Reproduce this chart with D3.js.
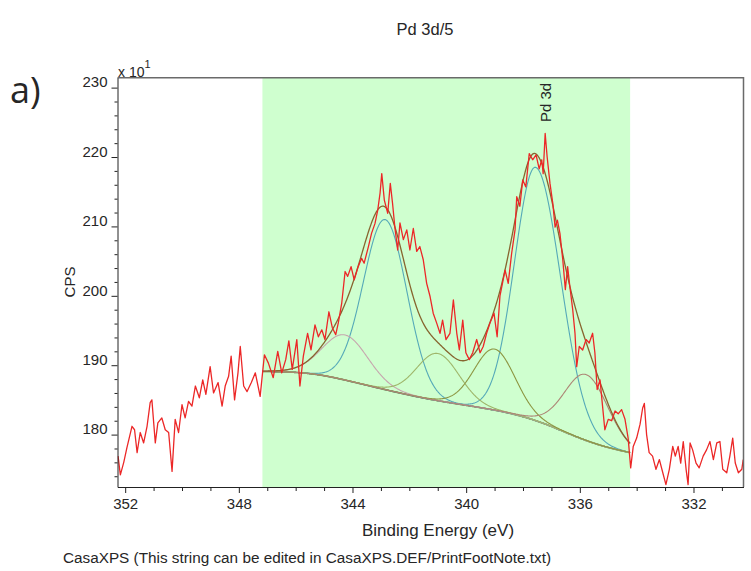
<!DOCTYPE html>
<html>
<head>
<meta charset="utf-8">
<script src="https://cdn.jsdelivr.net/npm/d3@7"></script>
<style>
  body { margin: 0; background: #fff; }
  svg { display: block; }
  text { font-family: "Liberation Sans", Arial, sans-serif; fill: #262626; }
</style>
</head>
<body>
<svg id="chart" width="751" height="571"></svg>
<script>
// ---- Measured spectrum (binding energy in eV, counts in units of 10 CPS) ----
const spectrumBE = [352.25, 352.17, 352.05, 351.94, 351.76, 351.67, 351.58, 351.47, 351.35, 351.23,
  351.12, 351.06, 350.94, 350.85, 350.71, 350.59, 350.47, 350.35, 350.24, 350.12,
  350.00, 349.89, 349.77, 349.65, 349.53, 349.39, 349.27, 349.16, 349.01, 348.89,
  348.73, 348.59, 348.48, 348.36, 348.27, 348.15, 348.03, 347.95, 347.83, 347.71,
  347.56, 347.42, 347.25,
  347.10, 346.96, 346.79, 346.63, 346.49, 346.35, 346.24, 346.12, 345.96, 345.85,
  345.73, 345.58, 345.46, 345.32, 345.20, 345.08, 344.97, 344.83, 344.71, 344.59,
  344.50, 344.38, 344.26, 344.17, 344.05, 343.94, 343.80, 343.68, 343.59, 343.44,
  343.33, 343.21, 343.11, 343.03, 342.97, 342.88, 342.76, 342.67, 342.59, 342.51,
  342.41,
  342.33, 342.21, 342.09, 341.98, 341.86, 341.74, 341.63, 341.51, 341.39, 341.27,
  341.16, 341.04, 340.92, 340.83, 340.71, 340.57, 340.45, 340.33, 340.24, 340.12,
  340.01, 339.89, 339.77, 339.63, 339.51, 339.40, 339.28, 339.16, 339.02, 338.91,
  338.81, 338.63, 338.52, 338.40, 338.28, 338.22, 338.11, 338.01, 337.90, 337.78,
  337.66, 337.54, 337.43, 337.34, 337.29, 337.22, 337.15, 337.05, 336.95, 336.87,
  336.79, 336.70, 336.60, 336.51, 336.43, 336.35, 336.25, 336.17, 336.11, 336.02,
  335.90, 335.78, 335.67, 335.55, 335.47, 335.39, 335.29, 335.20, 335.12, 335.00,
  334.88, 334.76, 334.65, 334.53, 334.41, 334.30, 334.21, 334.12, 334.00, 333.88,
  333.79, 333.73, 333.65, 333.56, 333.44, 333.32, 333.20, 333.08, 332.97, 332.85,
  332.73, 332.64, 332.54, 332.45, 332.36, 332.26, 332.19, 332.12, 332.03, 331.91,
  331.80, 331.66, 331.54, 331.42, 331.30, 331.18, 331.07, 330.97, 330.83, 330.72,
  330.62, 330.53, 330.42, 330.30, 330.25];
const spectrumCPS = [176.9, 174.2, 176.0, 178.1, 181.2, 180.7, 177.4, 180.3, 178.8, 181.2,
  184.6, 185.0, 178.8, 181.7, 182.4, 180.7, 180.3, 174.7, 182.2, 180.3,
  184.3, 182.4, 184.8, 184.1, 187.0, 185.3, 187.9, 185.8, 189.8, 186.0,
  187.5, 184.1, 187.0, 188.4, 191.3, 185.0, 188.9, 192.7, 187.0, 186.2,
  187.5, 188.9, 185.5,
  191.5, 190.3, 188.2, 192.0, 188.9, 190.8, 193.5, 189.4, 193.7, 187.0,
  191.3, 194.6, 192.2, 195.8, 194.1, 195.1, 193.7, 197.7, 195.4, 194.4,
  196.1, 198.9, 203.5, 202.8, 204.2, 202.3, 204.2, 205.4, 204.7, 207.1,
  209.0, 210.4, 212.4, 214.8, 217.6, 213.8, 211.9, 216.2, 213.3, 209.9,
  206.6,
  210.5, 208.1, 209.5, 206.6, 209.7, 206.4, 207.1, 205.2, 201.8, 199.9,
  197.5, 196.1, 194.6, 196.5, 193.7, 194.6, 199.4, 194.6, 192.2, 196.5,
  191.8, 190.8, 191.8, 193.7, 191.8, 192.7, 194.6, 196.1, 197.5, 194.1,
  200.0, 203.7, 201.8, 206.1, 209.5, 214.3, 212.9, 216.7, 215.7, 220.5,
  219.6, 220.3, 218.3, 219.6, 217.6, 223.4, 220.0, 216.2, 213.3, 209.9,
  210.9, 209.0, 205.2, 200.9, 204.2, 201.3, 198.0, 194.6, 189.8, 192.7,
  192.2, 193.7, 193.2, 194.6, 191.8, 186.5, 187.9, 184.1, 180.7, 182.2,
  182.0, 183.4, 183.0, 183.6, 182.2, 179.5, 175.2, 178.3, 179.5, 181.5,
  183.8, 184.5, 180.0, 177.4, 176.9, 175.0, 176.4, 174.5, 172.8, 175.0,
  178.3, 176.9, 178.3, 175.9, 179.0, 175.0, 172.8, 178.8, 177.8, 175.9,
  175.2, 176.9, 177.8, 179.0, 176.4, 178.8, 179.0, 175.0, 174.5, 176.9,
  179.5, 175.9, 174.5, 175.0, 176.4];

// ---- Fitting region and background (evenly spaced across the region) ----
const regionBE = [347.17, 334.23];
const backgroundCPS = [189.1, 189.05, 188.7, 187.8, 186.8, 185.85, 185.0, 184.35,
  183.7, 182.9, 181.6, 179.8, 178.3, 177.4];

// ---- Fitted components ----
const componentNames   = ["Pd 3d5/2 a", "Pd 3d3/2 a", "Pd 3d3/2 b", "Pd 3d3/2 c", "Pd 3d5/2 b", "Pd 3d5/2 c"];
const componentCenter  = [337.55, 342.85, 344.26, 341.00, 339.00, 335.77];
const componentHeight  = [36.5, 24.5, 6.5, 6.8, 8.8, 9.5];
const componentFwhmHi  = [1.75, 1.80, 1.90, 1.75, 1.70, 1.80];   // higher-BE side
const componentFwhmLo  = [2.05, 1.80, 1.90, 1.80, 1.70, 1.80];   // lower-BE side
const componentLorentz = [0.0, 0.0, 0.05, 0.05, 0.05, 0.05];

// ---- Axes ----
const xMajorTicks = [352, 348, 344, 340, 336, 332];
const yMajorTicks = [180, 190, 200, 210, 220, 230];
const peakLabel = { text: "Pd 3d", be: 337.2 };

const style = {
  componentColors: ["#55a9b8", "#55a9b8", "#c6a6ae", "#9fb66a", "#8d9642", "#ad8676"],
  background: "#5e5a2a",
  envelope: "#87652f",
  data: "#ec2727",
  region: "#cfffcf"
};

const svg = d3.select("#chart");
const plot = { left: 117.5, right: 743.5, top: 77.7, bottom: 487 };

const x = d3.scaleLinear().domain([352.27, 330.24]).range([plot.left, plot.right]);
const y = d3.scaleLinear().domain([172.45, 231.43]).range([plot.bottom, plot.top]);

svg.append("defs").append("clipPath").attr("id", "plotClip")
  .append("rect")
  .attr("x", plot.left).attr("y", plot.top)
  .attr("width", plot.right - plot.left).attr("height", plot.bottom - plot.top);

// fitting region
svg.append("rect")
  .attr("x", x(regionBE[0])).attr("y", plot.top)
  .attr("width", x(regionBE[1]) - x(regionBE[0]))
  .attr("height", plot.bottom - plot.top)
  .attr("fill", style.region);

// background as a smooth B-spline through its evenly spaced samples
const bgSpline = d3.interpolateBasis(backgroundCPS);
const bgAt = be => bgSpline((regionBE[0] - be) / (regionBE[0] - regionBE[1]));

function componentAt(i, be) {
  const d = be - componentCenter[i];
  const w = d >= 0 ? componentFwhmHi[i] : componentFwhmLo[i];
  const r2 = (d / w) * (d / w);
  const m = componentLorentz[i];
  return componentHeight[i] * ((1 - m) * Math.exp(-4 * Math.LN2 * r2) + m / (1 + 4 * r2));
}

const grid = d3.range(regionBE[0], regionBE[1] - 1e-9, -0.02);
grid.push(regionBE[1]);

const g = svg.append("g").attr("clip-path", "url(#plotClip)");
const line = d3.line().x(d => x(d[0])).y(d => y(d[1]));

// background
g.append("path")
  .datum(grid.map(be => [be, bgAt(be)]))
  .attr("fill", "none").attr("stroke", style.background).attr("stroke-width", 1.6)
  .attr("d", line);

// components on top of background
componentNames.forEach((name, i) => {
  g.append("path")
    .datum(grid.map(be => [be, bgAt(be) + componentAt(i, be)]))
    .attr("fill", "none").attr("stroke", style.componentColors[i]).attr("stroke-width", 1.1)
    .attr("d", line);
});

// envelope
g.append("path")
  .datum(grid.map(be => [be, bgAt(be) + d3.sum(componentNames, (n, i) => componentAt(i, be))]))
  .attr("fill", "none").attr("stroke", style.envelope).attr("stroke-width", 1.3)
  .attr("d", line);

// measured data
g.append("path")
  .datum(spectrumBE.map((be, i) => [be, spectrumCPS[i]]))
  .attr("fill", "none").attr("stroke", style.data).attr("stroke-width", 1.3)
  .attr("stroke-linejoin", "round")
  .attr("d", line);

// frame
svg.append("path")
  .attr("d", `M${plot.left},${plot.top}H${plot.right}V${plot.bottom}`)
  .attr("fill", "none").attr("stroke", "#6a6a6a").attr("stroke-width", 1.5);

// y axis
const yMinor = d3.range(174, 231, 2).filter(v => !yMajorTicks.includes(v));
const yAxisG = svg.append("g").attr("transform", `translate(${plot.left},0)`);
yAxisG.call(d3.axisLeft(y).tickValues(yMajorTicks).tickSize(6).tickPadding(4).tickSizeOuter(0));
yAxisG.append("g").call(d3.axisLeft(y).tickValues(yMinor).tickSize(3).tickFormat("").tickSizeOuter(0))
  .select(".domain").remove();
yAxisG.selectAll("text").attr("font-size", 15).attr("dy", "-0.05em")
  .style("font-family", "'Liberation Sans', Arial, sans-serif").attr("fill", "#262626");
yAxisG.selectAll("line, path").attr("stroke", "#222");

// x axis
const xMinor = d3.range(352, 330, -1).filter(v => !xMajorTicks.includes(v));
const xAxisG = svg.append("g").attr("transform", `translate(0,${plot.bottom})`);
xAxisG.call(d3.axisBottom(x).tickValues(xMajorTicks).tickSize(6).tickPadding(5).tickSizeOuter(0));
xAxisG.append("g").call(d3.axisBottom(x).tickValues(xMinor).tickSize(4).tickFormat("").tickSizeOuter(0))
  .select(".domain").remove();
xAxisG.selectAll("text").attr("font-size", 15)
  .style("font-family", "'Liberation Sans', Arial, sans-serif").attr("fill", "#262626");
xAxisG.selectAll("line, path").attr("stroke", "#222");

// scale factor note
const sf = svg.append("text").attr("x", 118).attr("y", 77).attr("font-size", 14);
sf.append("tspan").text("x 10");
sf.append("tspan").attr("dy", -9).attr("font-size", 11).text("1");

// peak label
svg.append("text")
  .attr("transform", `translate(${x(peakLabel.be) + 5},122) rotate(-90)`)
  .attr("font-size", 15).text(peakLabel.text);

// titles
svg.append("text").attr("x", 425).attr("y", 35).attr("text-anchor", "middle")
  .attr("font-size", 16.5).text("Pd 3d/5");
svg.append("text").attr("x", 438).attr("y", 536).attr("text-anchor", "middle")
  .attr("font-size", 17).text("Binding Energy (eV)");
svg.append("text").attr("transform", "translate(75,282) rotate(-90)").attr("text-anchor", "middle")
  .attr("font-size", 15).text("CPS");
svg.append("text").attr("x", 63).attr("y", 563).attr("font-size", 15.3)
  .text("CasaXPS (This string can be edited in CasaXPS.DEF/PrintFootNote.txt)");
svg.append("text").attr("x", 10).attr("y", 103).attr("font-size", 36)
  .style("font-family", "'Open Sans', 'Liberation Sans', sans-serif").text("a)");
</script>
</body>
</html>
